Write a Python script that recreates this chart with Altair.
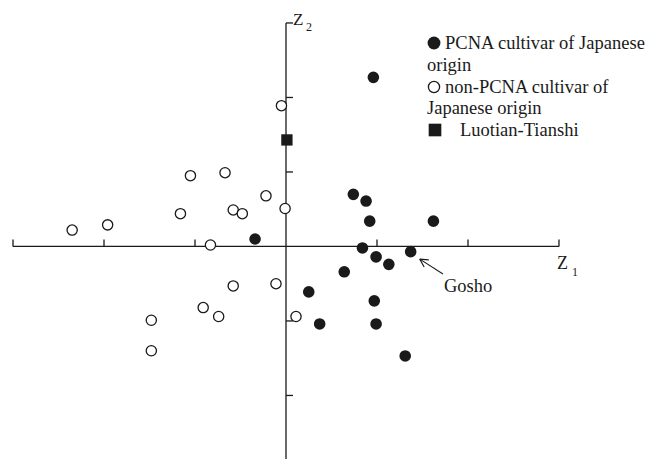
import altair as alt
import pandas as pd
import numpy as np

# ---- data ----
pcna_z1 = [-0.34, 0.25, 0.96, 0.74, 0.88, 0.92, 1.62, 0.84, 0.99, 1.13, 1.37, 0.64, 0.97, 0.37, 0.99, 1.31]
pcna_z2 = [0.10, -0.61, 2.27, 0.70, 0.61, 0.34, 0.34, -0.02, -0.14, -0.24, -0.07, -0.34, -0.73, -1.04, -1.04, -1.47]

non_z1 = [-2.35, -1.96, -1.05, -0.67, -1.16, -0.22, -0.58, -0.48, -0.01, -0.83, -0.58, -0.11, -0.91, -0.74, -1.48, -1.48, 0.11, -0.05]
non_z2 = [0.22, 0.29, 0.95, 0.99, 0.44, 0.68, 0.49, 0.44, 0.51, 0.02, -0.53, -0.50, -0.82, -0.94, -0.99, -1.40, -0.94, 1.89]

lt_z1 = [0.01]
lt_z2 = [1.43]

x_ticks = [-3, -2, -1, 1, 2, 3]
y_ticks = [-2, -1, 1, 2, 3]

legend_lines = ["PCNA cultivar of Japanese", "origin", "non-PCNA cultivar of", "Japanese origin", "Luotian-Tianshi"]

# ---- layout ----
W, H = 650, 451
XMIN, XMAX = -3.055, 4.088
YMIN, YMAX = -2.853, 3.201
KX = W / (XMAX - XMIN)
KY = H / (YMAX - YMIN)
INK = "#1a1a1a"
FONT = "Liberation Serif"

xs = alt.Scale(domain=[XMIN, XMAX], nice=False, zero=False)
ys = alt.Scale(domain=[YMIN, YMAX], nice=False, zero=False)


def X(f):
    return alt.X(f, type="quantitative", scale=xs, axis=None)


def Y(f):
    return alt.Y(f, type="quantitative", scale=ys, axis=None)


one = pd.DataFrame({"a": [0]})

# axis lines
xaxis = alt.Chart(pd.DataFrame({"x": [-3.0], "x2": [3.0], "y": [0.0]})).mark_rule(
    color=INK, strokeWidth=1.3).encode(x=X("x"), x2="x2", y=Y("y"))
yaxis = alt.Chart(pd.DataFrame({"x": [0.0], "y": [YMIN], "y2": [3.0]})).mark_rule(
    color=INK, strokeWidth=1.3).encode(x=X("x"), y=Y("y"), y2="y2")

tick_len = 7
xt = pd.DataFrame({"x": x_ticks})
xt["y"] = 0.0
xt["y2"] = tick_len / KY
xtick = alt.Chart(xt).mark_rule(color=INK, strokeWidth=1.3).encode(x=X("x"), y=Y("y"), y2="y2")
yt = pd.DataFrame({"y": y_ticks})
yt["x"] = 0.0
yt["x2"] = tick_len / KX
ytick = alt.Chart(yt).mark_rule(color=INK, strokeWidth=1.3).encode(y=Y("y"), x=X("x"), x2="x2")

# points
pcna = alt.Chart(pd.DataFrame({"z1": pcna_z1, "z2": pcna_z2})).mark_point(
    shape="circle", filled=True, size=135, color=INK, opacity=1).encode(x=X("z1"), y=Y("z2"))
nonp = alt.Chart(pd.DataFrame({"z1": non_z1, "z2": non_z2})).mark_point(
    shape="circle", filled=True, size=105, fill="white", stroke=INK, strokeWidth=1.3, opacity=1
).encode(x=X("z1"), y=Y("z2"))
lt = alt.Chart(pd.DataFrame({"z1": lt_z1, "z2": lt_z2})).mark_point(
    shape="square", filled=True, size=128, color=INK, opacity=1).encode(x=X("z1"), y=Y("z2"))

# Gosho arrow (data coordinates)
tip = np.array([1.47, -0.17])
tail = np.array([1.725, -0.37])
d_px = np.array([(tail[0] - tip[0]) * KX, -(tail[1] - tip[1]) * KY])
d_px = d_px / np.linalg.norm(d_px)
segs = [{"x": tip[0], "y": tip[1], "x2": tail[0], "y2": tail[1]}]
for ang in (np.radians(28), -np.radians(28)):
    c, s = np.cos(ang), np.sin(ang)
    v = np.array([c * d_px[0] - s * d_px[1], s * d_px[0] + c * d_px[1]]) * 9
    segs.append({"x": tip[0], "y": tip[1], "x2": tip[0] + v[0] / KX, "y2": tip[1] - v[1] / KY})
arrow = alt.Chart(pd.DataFrame(segs)).mark_rule(color=INK, strokeWidth=1.1).encode(
    x=X("x"), y=Y("y"), x2="x2", y2="y2")


def label(txt, x, y, size, baseline="alphabetic"):
    return alt.Chart(one).mark_text(
        text=txt, font=FONT, fontSize=size, align="left", baseline=baseline, color=INK
    ).encode(x=alt.value(x), y=alt.value(y))


LF = 18.5
texts = [
    label("Gosho", 436, 284, 18.5),
    label("Z", 549, 261, 18),
    label("1", 564, 268, 12),
    label("Z", 285, 17, 17),
    label("2", 298, 23, 12),
    label(legend_lines[0], 437, 35, LF, "middle"),
    label(legend_lines[1], 419, 57, LF, "middle"),
    label(legend_lines[2], 437, 79, LF, "middle"),
    label(legend_lines[3], 419, 100, LF, "middle"),
    label(legend_lines[4], 452, 122, LF, "middle"),
]

leg_fill = alt.Chart(one).mark_point(shape="circle", filled=True, size=165, color=INK, opacity=1).encode(
    x=alt.value(426), y=alt.value(35))
leg_open = alt.Chart(one).mark_point(shape="circle", filled=True, size=125, fill="white", stroke=INK,
                                     strokeWidth=1.3, opacity=1).encode(x=alt.value(426), y=alt.value(79))
leg_sq = alt.Chart(one).mark_point(shape="square", filled=True, size=160, color=INK, opacity=1).encode(
    x=alt.value(427), y=alt.value(122))

chart = alt.layer(
    xaxis, yaxis, xtick, ytick, arrow, pcna, nonp, lt, leg_fill, leg_open, leg_sq, *texts
).properties(
    width=W, height=H, autosize=alt.AutoSizeParams(type="none"), padding=0
).configure_view(stroke=None)

chart.save("out.html", embed_options={"renderer": "svg", "actions": False})
